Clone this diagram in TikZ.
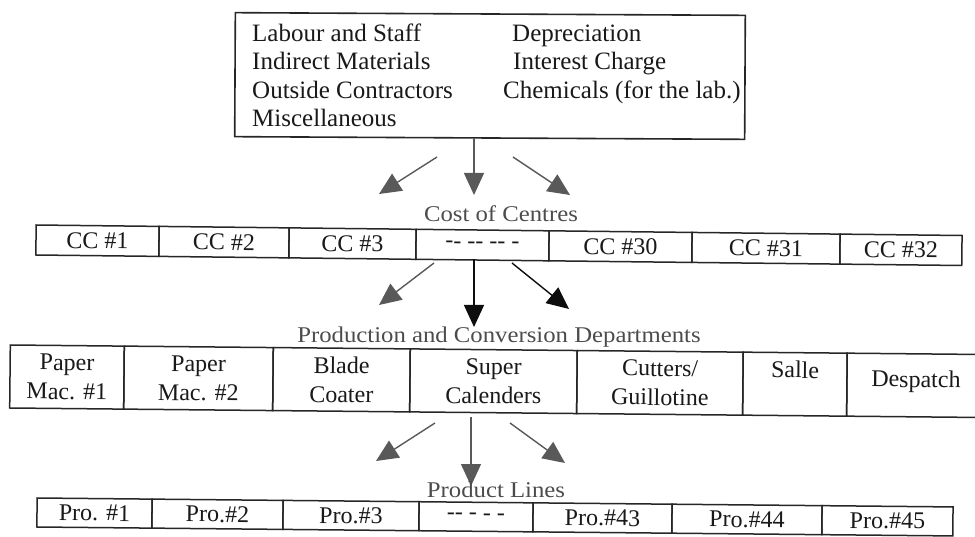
\documentclass[tikz,border=0pt]{standalone}
\usepackage{fontspec}
\setmainfont{Liberation Serif}
\newfontfamily\widefont[FakeStretch=1.1]{Liberation Serif}
\usetikzlibrary{arrows.meta}
\definecolor{linec}{gray}{0.15}
\definecolor{textc}{gray}{0.1}
\definecolor{labelc}{gray}{0.3}
\definecolor{arrowg}{gray}{0.35}
\definecolor{arrowk}{gray}{0.05}
\begin{document}
\begin{tikzpicture}[x=1pt,y=-1pt,
  frame/.style={draw=linec, line width=1.6pt},
  boxtext/.style={anchor=base west, inner sep=0pt, font=\fontsize{25}{30}\selectfont, text=textc},
  cell/.style={draw=linec, line width=1.5pt, inner sep=0pt, align=center,
    font=\fontsize{24}{29}\selectfont, text=textc},
  lbl/.style={anchor=base, inner sep=0pt, font=\widefont\fontsize{22.5}{27}\selectfont, text=labelc},
  flowg/.style={draw=arrowg, line width=1.4pt, -{Triangle[length=22pt,width=20pt]}},
  flowk/.style={draw=arrowk, line width=1.4pt, -{Triangle[length=22pt,width=20pt]}}]
\useasboundingbox (0,0) rectangle (975,537);

% source box
\begin{scope}[shift={(490,76)}, rotate=-0.3, transform shape]
\node[frame, minimum width=510pt, minimum height=124pt, inner sep=0pt] (src) at (0,0) {};
\end{scope}
\node[boxtext] (t1) at (252,42) {Labour and Staff};
\node[boxtext] (t2) at (252,70) {Indirect Materials};
\node[boxtext] (t3) at (252,99) {Outside Contractors};
\node[boxtext] (t4) at (252,127) {Miscellaneous};
\node[boxtext] (t5) at (512,42) {Depreciation};
\node[boxtext] (t6) at (513,70) {Interest Charge};
\node[boxtext] (t7) at (503,99) {Chemicals (for the lab.)};

% arrows set 1
\coordinate (s1l) at (437,157); \coordinate (e1l) at (379,194);
\coordinate (s1c) at (474,138); \coordinate (e1c) at (474,195);
\coordinate (s1r) at (513,157); \coordinate (e1r) at (570,195);
\draw[flowg] (s1l) -- (e1l);
\draw[flowg] (s1c) -- (e1c);
\draw[flowg] (s1r) -- (e1r);

% cost centres
\node[lbl] (lcc) at (501,222) {Cost of Centres};
\begin{scope}[shift={(36,240)}, rotate=-0.65, transform shape]
\node[cell, minimum width=123pt, minimum height=30pt] (c1) at (61.5,0) {CC \#1};
\node[cell, minimum width=130pt, minimum height=30pt] (c2) at (188,0) {CC \#2};
\node[cell, minimum width=127pt, minimum height=30pt] (c3) at (316.5,0) {CC \#3};
\node[cell, minimum width=133pt, minimum height=30pt] (c4) at (446.5,0) {-{}- -{}- -{}- -};
\node[cell, minimum width=143pt, minimum height=30pt] (c5) at (584.5,0) {CC \#30};
\node[cell, minimum width=148pt, minimum height=30pt] (c6) at (730,0) {CC \#31};
\node[cell, minimum width=122pt, minimum height=30pt] (c7) at (865,0) {CC \#32};
\end{scope}

% arrows set 2
\coordinate (s2l) at (434,263); \coordinate (e2l) at (379,305);
\coordinate (s2c) at (474,259); \coordinate (e2c) at (474,327);
\coordinate (s2r) at (512,263); \coordinate (e2r) at (569,309);
\draw[flowg] (s2l) -- (e2l);
\draw[flowk] (s2c) -- (e2c);
\draw[flowk] (s2r) -- (e2r);

% production and conversion departments
\node[lbl] (lpd) at (499,343) {Production and Conversion Departments};
\begin{scope}[shift={(10,376.5)}, rotate=-0.56, transform shape]
\node[cell, minimum width=114pt, minimum height=63pt] (p1) at (57,0) {Paper\\Mac. \#1};
\node[cell, minimum width=149pt, minimum height=63pt] (p2) at (188.5,0) {Paper\\Mac. \#2};
\node[cell, minimum width=137pt, minimum height=63pt] (p3) at (331.5,0) {Blade\\Coater};
\node[cell, minimum width=167pt, minimum height=63pt] (p4) at (483.5,0) {Super\\Calenders};
\node[cell, minimum width=166pt, minimum height=63pt] (p5) at (650,0) {Cutters/\\Guillotine};
\node[cell, minimum width=104pt, minimum height=63pt] (p6) at (785,0) {Salle\\\phantom{X}};
\node[cell, minimum width=138pt, minimum height=63pt] (p7) at (906,0) {\raisebox{13pt}{Despatch}};
\end{scope}

% arrows set 3
\coordinate (s3l) at (435,423); \coordinate (e3l) at (376,461);
\coordinate (s3c) at (471,417); \coordinate (e3c) at (471,486);
\coordinate (s3r) at (510,423); \coordinate (e3r) at (565,463);
\draw[flowg] (s3l) -- (e3l);
\draw[flowg] (s3c) -- (e3c);
\draw[flowg] (s3r) -- (e3r);

% product lines
\node[lbl] (lpl) at (496,497) {Product Lines};
\begin{scope}[shift={(37,512.5)}, rotate=-0.56, transform shape]
\node[cell, minimum width=115pt, minimum height=29pt] (q1) at (57.5,0) {Pro. \#1};
\node[cell, minimum width=131pt, minimum height=29pt] (q2) at (180.5,0) {Pro.\#2};
\node[cell, minimum width=136pt, minimum height=29pt] (q3) at (314,0) {Pro.\#3};
\node[cell, minimum width=114pt, minimum height=29pt] (q4) at (439,0) {-{}- - - -};
\node[cell, minimum width=139pt, minimum height=29pt] (q5) at (565.5,0) {Pro.\#43};
\node[cell, minimum width=150pt, minimum height=29pt] (q6) at (710,0) {Pro.\#44};
\node[cell, minimum width=131pt, minimum height=29pt] (q7) at (850.5,0) {Pro.\#45};
\end{scope}
\end{tikzpicture}
\end{document}
